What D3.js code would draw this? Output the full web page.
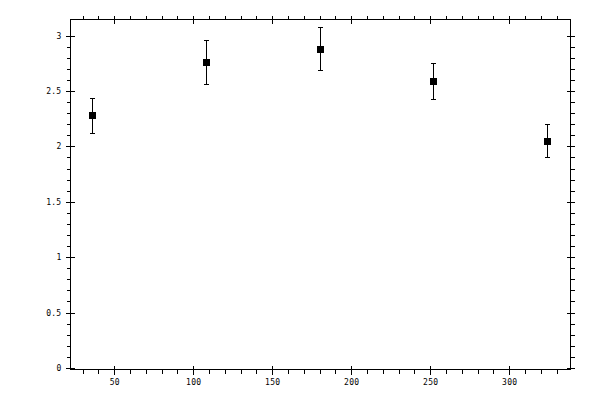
<!DOCTYPE html>
<html>
<head>
<meta charset="utf-8">
<script src="https://cdn.jsdelivr.net/npm/d3@7"></script>
<style>
  body { margin: 0; background: #fff; }
  svg { display: block; }
  .tick text { font-family: "DejaVu Sans Mono", monospace; font-size: 8px; fill: #000; letter-spacing: 0.3px; }
  .domain, .tick line { stroke: #000; stroke-width: 1; shape-rendering: crispEdges; }
</style>
</head>
<body>
<script>
// data
var xValues = [36, 108, 180, 252, 324];
var yValues = [2.28, 2.76, 2.88, 2.59, 2.05];
var yErrors = [0.16, 0.2, 0.195, 0.16, 0.15];

var xMajor = [50, 100, 150, 200, 250, 300];
var xMinor = d3.range(30, 331, 10);
var yMajor = [0, 0.5, 1, 1.5, 2, 2.5, 3];
var yMinor = d3.range(0, 31).map(d => d / 10);

var width = 600, height = 400;
var frame = {left: 70.5, right: 570.5, top: 19.5, bottom: 369.5};

const svg = d3.select("body")
    .append("svg")
    .attr("width", width)
    .attr("height", height);

var xscale = d3.scaleLinear()
    .domain([22.3, 338.8])
    .range([frame.left, frame.right]);

var yscale = d3.scaleLinear()
    .domain([-0.014, 3.145])
    .range([frame.bottom, frame.top]);

// frame
svg.append("rect")
    .attr("x", frame.left)
    .attr("y", frame.top)
    .attr("width", frame.right - frame.left)
    .attr("height", frame.bottom - frame.top)
    .attr("fill", "none")
    .attr("stroke", "#000")
    .attr("shape-rendering", "crispEdges");

// minor ticks point outward, major ones cross the frame

// bottom
svg.append("g")
    .attr("transform", `translate(0,${frame.bottom})`)
    .call(d3.axisBottom(xscale).tickValues(xMinor).tickSize(4).tickFormat(""))
    .call(g => g.select(".domain").remove());
svg.append("g")
    .attr("transform", `translate(0,${frame.bottom})`)
    .call(d3.axisBottom(xscale).tickValues(xMajor).tickSize(5).tickPadding(5))
    .call(g => g.select(".domain").remove())
    .call(g => g.selectAll(".tick line").attr("y1", -4));

// top
svg.append("g")
    .attr("transform", `translate(0,${frame.top})`)
    .call(d3.axisTop(xscale).tickValues(xMinor).tickSize(4).tickFormat(""))
    .call(g => g.select(".domain").remove());
svg.append("g")
    .attr("transform", `translate(0,${frame.top})`)
    .call(d3.axisTop(xscale).tickValues(xMajor).tickSize(4).tickFormat(""))
    .call(g => g.select(".domain").remove())
    .call(g => g.selectAll(".tick line").attr("y1", 4));

// left
svg.append("g")
    .attr("transform", `translate(${frame.left},0)`)
    .call(d3.axisLeft(yscale).tickValues(yMinor).tickSize(4).tickFormat(""))
    .call(g => g.select(".domain").remove());
svg.append("g")
    .attr("transform", `translate(${frame.left},0)`)
    .call(d3.axisLeft(yscale).tickValues(yMajor).tickSize(5).tickPadding(4).tickFormat(d3.format("")))
    .call(g => g.select(".domain").remove())
    .call(g => g.selectAll(".tick line").attr("x1", 4));

// right
svg.append("g")
    .attr("transform", `translate(${frame.right},0)`)
    .call(d3.axisRight(yscale).tickValues(yMinor).tickSize(4).tickFormat(""))
    .call(g => g.select(".domain").remove());
svg.append("g")
    .attr("transform", `translate(${frame.right},0)`)
    .call(d3.axisRight(yscale).tickValues(yMajor).tickSize(4).tickFormat(""))
    .call(g => g.select(".domain").remove())
    .call(g => g.selectAll(".tick line").attr("x1", -4));

var data = xValues.map((x, i) => ({x: x, y: yValues[i], e: yErrors[i]}));

// error bars
var bars = svg.append("g")
    .attr("stroke", "#000")
    .attr("shape-rendering", "crispEdges");

bars.selectAll(".stem")
    .data(data)
    .join("line")
    .attr("x1", d => Math.round(xscale(d.x)) + 0.5)
    .attr("x2", d => Math.round(xscale(d.x)) + 0.5)
    .attr("y1", d => yscale(d.y + d.e))
    .attr("y2", d => yscale(d.y - d.e));

bars.selectAll(".capTop")
    .data(data)
    .join("line")
    .attr("x1", d => Math.round(xscale(d.x)) - 2)
    .attr("x2", d => Math.round(xscale(d.x)) + 3)
    .attr("y1", d => Math.round(yscale(d.y + d.e)) + 0.5)
    .attr("y2", d => Math.round(yscale(d.y + d.e)) + 0.5);

bars.selectAll(".capBottom")
    .data(data)
    .join("line")
    .attr("x1", d => Math.round(xscale(d.x)) - 2)
    .attr("x2", d => Math.round(xscale(d.x)) + 3)
    .attr("y1", d => Math.round(yscale(d.y - d.e)) + 0.5)
    .attr("y2", d => Math.round(yscale(d.y - d.e)) + 0.5);

// square markers
svg.append("g")
    .selectAll("rect")
    .data(data)
    .join("rect")
    .attr("x", d => Math.round(xscale(d.x)) - 3)
    .attr("y", d => Math.round(yscale(d.y)) - 3)
    .attr("width", 7)
    .attr("height", 7)
    .attr("fill", "#000")
    .attr("shape-rendering", "crispEdges");
</script>
</body>
</html>
